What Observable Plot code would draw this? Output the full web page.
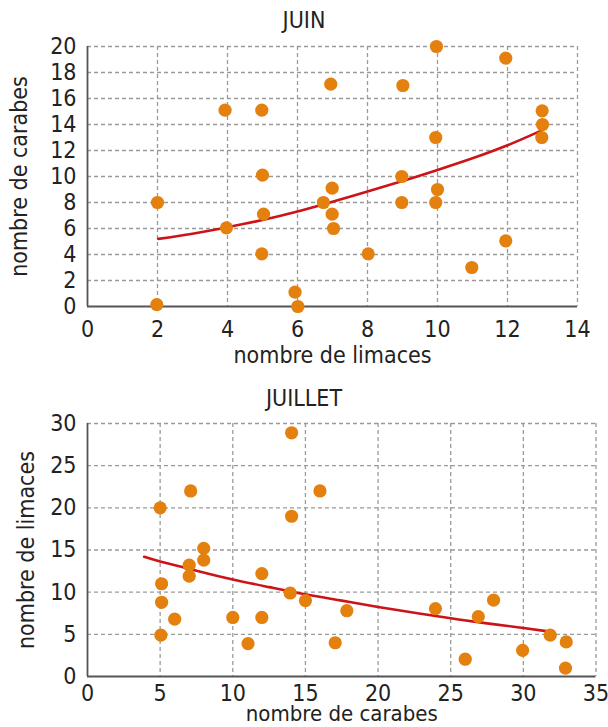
<!DOCTYPE html>
<html>
<head>
<meta charset="utf-8">
<script src="https://cdn.jsdelivr.net/npm/d3@7"></script>
<script src="https://cdn.jsdelivr.net/npm/@observablehq/plot@0.6"></script>
<style>
  html, body { margin: 0; padding: 0; background: #fff; }
  #wrap { position: relative; width: 608px; height: 727px; overflow: hidden; background: #fff; }
  .title { position: absolute; left: 0; width: 608px; text-align: center; font-size: 23px; line-height: 23px; z-index: 2;
           font-family: 'Liberation Sans Narrow', 'DejaVu Sans Condensed', 'Arial Narrow', sans-serif; color: #222; }
  .chart { position: absolute; left: 0; z-index: 1; }
</style>
</head>
<body>
<div id="wrap">
  <div class="title" style="top:9px">JUIN</div>
  <div class="title" style="top:387px">JUILLET</div>
  <div class="chart" id="c1" style="top:0px"></div>
  <div class="chart" id="c2" style="top:375px"></div>
</div>
<script>
// ---- JUIN data ----
const juinLimaces = [2.0, 1.98, 3.93, 4.98, 5.0, 5.03, 3.97, 4.98, 5.93, 6.01, 6.95, 6.74, 6.99, 6.99, 7.03, 8.02, 9.01, 8.98, 8.98, 9.97, 9.95, 10.0, 9.95, 10.98, 11.95, 11.95, 12.99, 13.0, 12.98];
const juinCarabes = [8.0, 0.15, 15.1, 15.1, 10.1, 7.1, 6.05, 4.05, 1.1, 0.0, 17.1, 8.0, 9.1, 7.1, 6.0, 4.05, 17.0, 10.0, 8.0, 20.0, 13.0, 9.0, 8.0, 3.0, 19.1, 5.05, 15.05, 14.0, 13.0];
const juinTrendX = [2.02, 3, 4, 5, 6, 7, 8, 9, 10, 11, 12, 13];
const juinTrendY = [5.2, 5.6, 6.1, 6.65, 7.3, 8.05, 8.85, 9.65, 10.5, 11.4, 12.4, 13.57];
const juinXTicks = [0, 2, 4, 6, 8, 10, 12, 14];
const juinYTicks = [0, 2, 4, 6, 8, 10, 12, 14, 16, 18, 20];

// ---- JUILLET data ----
const juilCarabes = [14.05, 7.1, 16.0, 5.0, 14.05, 8.0, 8.0, 7.0, 7.0, 12.0, 5.1, 5.1, 6.0, 5.05, 13.95, 15.0, 10.0, 12.0, 11.05, 17.05, 17.85, 23.95, 27.95, 26.9, 26.0, 29.95, 31.85, 32.95, 32.9];
const juilLimaces = [28.9, 22.0, 22.0, 20.0, 19.0, 15.2, 13.8, 13.2, 11.9, 12.2, 11.0, 8.8, 6.8, 4.9, 9.9, 9.0, 7.0, 7.0, 3.9, 4.0, 7.8, 8.05, 9.05, 7.1, 2.05, 3.1, 4.9, 4.1, 1.0];
const juilTrendX = [3.9, 5, 7.5, 10, 12.5, 15, 17.5, 20, 22.5, 25, 27.5, 30, 31.7];
const juilTrendY = [14.2, 13.65, 12.55, 11.5, 10.6, 9.75, 9.0, 8.25, 7.55, 6.9, 6.3, 5.75, 5.35];
const juilXTicks = [0, 5, 10, 15, 20, 25, 30, 35];
const juilYTicks = [0, 5, 10, 15, 20, 25, 30];

const FONT = "'Liberation Sans Narrow', 'DejaVu Sans Condensed', 'Arial Narrow', sans-serif";
const DOT = "#e4800e";
const LINE = "#cc1418";
const GRID = "#9a9a9a";
const AXIS = "#555";

function makeChart(o) {
  const pts = o.xs.map((x, i) => ({x, y: o.ys[i]}));
  const trend = o.tx.map((x, i) => ({x, y: o.ty[i]}));
  return Plot.plot({
    width: 608,
    height: o.height,
    marginLeft: 87,
    marginRight: o.marginRight,
    marginTop: o.marginTop,
    marginBottom: o.marginBottom,
    style: {fontFamily: FONT, fontSize: "23px", color: "#222", background: "transparent", overflow: "visible"},
    x: {domain: o.xDomain, ticks: o.xTicks, tickSize: 0, tickPadding: o.xTickPadding, label: null},
    y: {domain: o.yDomain, ticks: o.yTicks, tickSize: 0, tickPadding: 11, label: o.yLabel,
        labelAnchor: "center", labelOffset: o.yLabelOffset, labelArrow: "none"},
    marks: [
      Plot.ruleX(o.xTicks.slice(1), {stroke: GRID, strokeWidth: 1.3, strokeDasharray: "4,3"}),
      Plot.ruleY(o.yTicks.slice(1), {stroke: GRID, strokeWidth: 1.3, strokeDasharray: "4,3"}),
      Plot.ruleX([o.xDomain[0]], {stroke: AXIS, strokeWidth: 1.8}),
      Plot.ruleY([o.yDomain[0]], {stroke: AXIS, strokeWidth: 1.8}),
      Plot.line(trend, {x: "x", y: "y", stroke: LINE, strokeWidth: 2.6, curve: "natural"}),
      Plot.dot(pts, {x: "x", y: "y", r: 6.6, fill: DOT, stroke: "none"}),
      Plot.text([o.xLabel], {text: d => d, frameAnchor: "bottom", dy: o.xLabelDy,
        fontSize: o.xLabelSize, fill: "#222", lineAnchor: "middle"})
    ]
  });
}

document.getElementById("c1").appendChild(makeChart({
  xs: juinLimaces, ys: juinCarabes, tx: juinTrendX, ty: juinTrendY,
  height: 375, marginTop: 46, marginBottom: 69, marginRight: 31,
  xDomain: [0, 14], yDomain: [0, 20], xTicks: juinXTicks, yTicks: juinYTicks,
  xLabel: "nombre de limaces", yLabel: "nombre de carabes",
  xTickPadding: 14, xLabelDy: 49, xLabelSize: 23, yLabelOffset: 77
}));

document.getElementById("c2").appendChild(makeChart({
  xs: juilCarabes, ys: juilLimaces, tx: juilTrendX, ty: juilTrendY,
  height: 352, marginTop: 48, marginBottom: 51, marginRight: 12.5,
  xDomain: [0, 35], yDomain: [0, 30], xTicks: juilXTicks, yTicks: juilYTicks,
  xLabel: "nombre de carabes", yLabel: "nombre de limaces",
  xTickPadding: 8, xLabelDy: 37, xLabelSize: 22, yLabelOffset: 70
}));
</script>
</body>
</html>
